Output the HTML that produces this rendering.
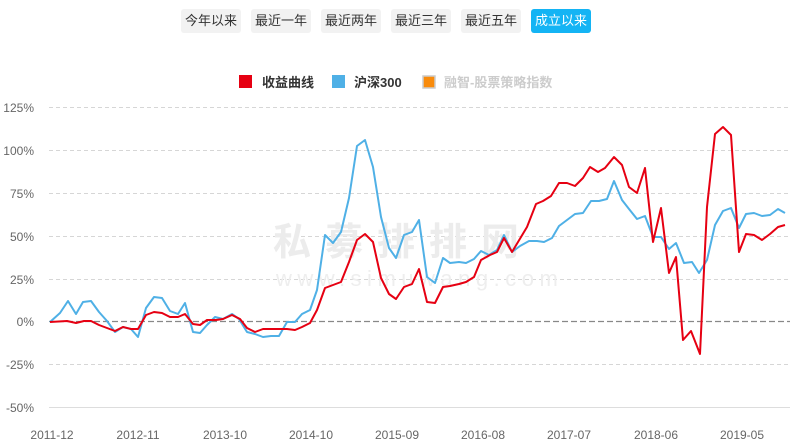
<!DOCTYPE html>
<html><head><meta charset="utf-8"><style>
body{margin:0;background:#fff;width:792px;height:443px;overflow:hidden;font-family:"Liberation Sans","Noto Sans CJK SC",sans-serif}
.b{position:absolute;top:9px;height:24px;width:60px;background:#f2f2f2;border-radius:3px;font-size:13px;color:#333;text-align:center;line-height:24px}
.a{background:#14b4f4;color:#fff}
</style></head><body>
<div class="b" style="left:181px">今年以来</div>
<div class="b" style="left:251px">最近一年</div>
<div class="b" style="left:321px">最近两年</div>
<div class="b" style="left:391px">最近三年</div>
<div class="b" style="left:461px">最近五年</div>
<div class="b a" style="left:531px">成立以来</div>
<svg width="792" height="443" style="position:absolute;left:0;top:0" font-family="Liberation Sans, Noto Sans CJK SC, sans-serif">
<rect x="239" y="75" width="13" height="13" fill="#e60012"/>
<text x="262" y="87" font-size="13" font-weight="bold" fill="#333">收益曲线</text>
<rect x="332" y="75" width="13" height="13" fill="#4fb0e6"/>
<text x="354" y="87" font-size="13" font-weight="bold" fill="#333">沪深300</text>
<rect x="423" y="76" width="12" height="12" fill="#f98b0b" stroke="#ccc" stroke-width="1.5"/>
<text x="444" y="87" font-size="13" font-weight="bold" fill="#ccc">融智-股票策略指数</text>
<g stroke="#d6d6d6" stroke-dasharray="4,3" stroke-width="1">
<line x1="49" x2="790" y1="107.5" y2="107.5"/><line x1="49" x2="790" y1="150.5" y2="150.5"/>
<line x1="49" x2="790" y1="193.5" y2="193.5"/><line x1="49" x2="790" y1="236.5" y2="236.5"/>
<line x1="49" x2="790" y1="279.5" y2="279.5"/><line x1="49" x2="790" y1="364.5" y2="364.5"/>
</g>
<line x1="49" x2="790" y1="407.5" y2="407.5" stroke="#ddd"/>
<text x="273" y="255" font-size="38" font-weight="bold" fill="#ececec" letter-spacing="14">私募排排网</text>
<text x="276" y="286" font-size="22" fill="#eeeeee" letter-spacing="5.5">www.simuwang.com</text>
<line x1="49" x2="790" y1="321.5" y2="321.5" stroke="#888" stroke-dasharray="6,3" stroke-width="1.2"/>
<g font-size="12" fill="#666" text-anchor="end">
<text x="34" y="112">125%</text><text x="34" y="155">100%</text><text x="34" y="198">75%</text>
<text x="34" y="241">50%</text><text x="34" y="284">25%</text><text x="34" y="326">0%</text>
<text x="34" y="369">-25%</text><text x="34" y="412">-50%</text>
</g>
<g font-size="12" fill="#666" text-anchor="middle">
<text x="52" y="439">2011-12</text><text x="138" y="439">2012-11</text><text x="225" y="439">2013-10</text>
<text x="311" y="439">2014-10</text><text x="397" y="439">2015-09</text><text x="483" y="439">2016-08</text>
<text x="569" y="439">2017-07</text><text x="656" y="439">2018-06</text><text x="742" y="439">2019-05</text>
</g>
<polyline fill="none" stroke="#4fb0e6" stroke-width="2" stroke-linejoin="round" points="50,322 60,313 68,301 76,314 83,302 91,301 99,312 107,321 115,332 123,327 131,329 138,337 146,308 154,297 162,298 170,311 178,314 185,303 193,332 200,333 207,325 215,317 223,319 232,314 239,319 247,332 255,334 263,337 271,336 279,336 287,322 295,322 302,314 310,310 317,290 325,235 333,243 341,232 349,198 357,146 365,140 373,167 381,217 389,248 396,258 404,235 412,232 419,220 427,277 435,283 443,258 450,263 459,262 466,263 474,259 481,251 489,255 497,250 504,235 512,252 520,246 529,241 537,241 544,242 552,238 559,226 567,220 575,214 583,213 591,201 599,201 607,199 614,181 622,200 629,209 637,219 645,216 653,237 661,237 669,249 676,243 684,263 692,262 699,273 707,260 715,225 723,211 731,208 739,228 746,214 754,213 762,216 770,215 778,209 785,213"/>
<polyline fill="none" stroke="#e60012" stroke-width="2" stroke-linejoin="round" points="50,322 67,321 76,323 84,321 91,321 99,325 107,328 115,331 123,327 131,329 138,329 146,315 154,312 162,313 170,317 178,317 185,314 193,324 200,325 207,320 216,320 223,319 232,315 240,319 247,328 255,332 263,329 271,329 279,329 287,329 295,330 302,327 310,323 317,310 325,288 333,285 341,282 349,262 357,240 365,234 373,242 381,278 389,294 396,299 404,287 412,284 419,269 427,302 435,303 443,287 450,286 459,284 466,282 474,277 481,260 490,255 497,252 504,238 512,252 527,227 536,204 543,201 551,196 559,183 567,183 575,186 583,178 590,167 598,172 605,168 614,157 622,165 629,187 637,193 645,168 653,242 661,208 669,273 676,257 683,340 691,331 700,354 707,207 715,134 723,127 731,135 739,252 746,234 754,235 762,240 770,234 778,227 785,225"/>
</svg>
</body></html>
